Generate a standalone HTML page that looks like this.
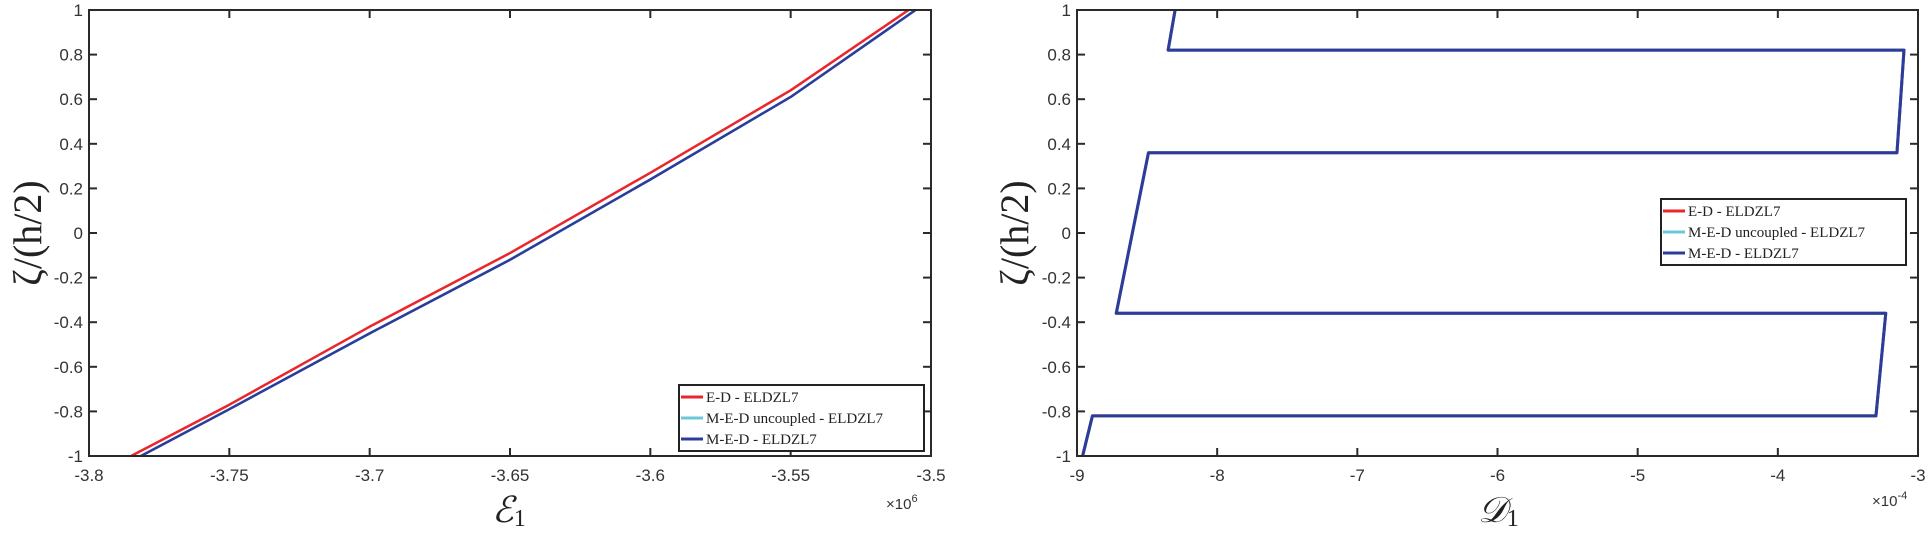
<!DOCTYPE html>
<html><head><meta charset="utf-8"><style>
body{margin:0;background:#fff;position:relative}
svg text{font-family:"Liberation Sans",sans-serif}
.tk{font-size:17px;fill:#333}
.ser{font-family:"Liberation Serif","DejaVu Serif",serif}
</style></head><body>
<svg id="c" width="1930" height="536" xmlns="http://www.w3.org/2000/svg"></svg>
<script>
const leftXTicks=[-3.8,-3.75,-3.7,-3.65,-3.6,-3.55,-3.5];
const leftXLabels=["-3.8","-3.75","-3.7","-3.65","-3.6","-3.55","-3.5"];
const yTicks=[-1,-0.8,-0.6,-0.4,-0.2,0,0.2,0.4,0.6,0.8,1];
const yLabels=["-1","-0.8","-0.6","-0.4","-0.2","0","0.2","0.4","0.6","0.8","1"];
const leftZeta=[-1,-0.77,-0.42,-0.09,0.27,0.64,1];
const leftRedE=[-3.785,-3.75,-3.7,-3.65,-3.6,-3.55,-3.508];
const leftBlueZeta=[-1,-0.79,-0.45,-0.12,0.24,0.61,1];
const leftBlueE=[-3.7815,-3.75,-3.7,-3.65,-3.6,-3.55,-3.5055];
const rightXTicks=[-9,-8,-7,-6,-5,-4,-3];
const rightXLabels=["-9","-8","-7","-6","-5","-4","-3"];
const rightZeta=[1,0.82,0.82,0.36,0.36,-0.36,-0.36,-0.82,-0.82,-1];
const rightD=[-8.30,-8.35,-3.10,-3.15,-8.49,-8.72,-3.23,-3.30,-8.89,-8.96];
const legendLabels=["E-D - ELDZL7","M-E-D uncoupled - ELDZL7","M-E-D - ELDZL7"];
const legendColors=["#e8262b","#6cc8d8","#2b3c9a"];

const svg=document.getElementById('c');
const NS='http://www.w3.org/2000/svg';
function mk(tag,attrs,parent){const e=document.createElementNS(NS,tag);for(const k in attrs)e.setAttribute(k,attrs[k]);(parent||svg).appendChild(e);return e;}

function panel(o){
  const g=mk('g',{});
  
  
  const X=v=>o.x0+(v-o.xmin)/(o.xmax-o.xmin)*(o.x1-o.x0);
  const Y=v=>o.y1-(v+1)/2*(o.y1-o.y0);
  o.series.forEach(s=>{
    const p=mk('polyline',{points:s.xs.map((v,i)=>X(v)+','+Y(s.ys[i])).join(' '),fill:'none',stroke:s.color,'stroke-width':s.w,'stroke-linejoin':'round'},g);
    
    
  });
  const ax=mk('rect',{x:o.x0,y:o.y0,width:o.x1-o.x0,height:o.y1-o.y0,fill:'none',stroke:'#2a2a2a','stroke-width':2},g);
  
  
  o.xt.forEach((v,i)=>{
    const x=X(v);
    mk('line',{x1:x,x2:x,y1:o.y1,y2:o.y1-8,stroke:'#2a2a2a','stroke-width':2},g);
    mk('line',{x1:x,x2:x,y1:o.y0,y2:o.y0+8,stroke:'#2a2a2a','stroke-width':2},g);
    const t=mk('text',{x:x,y:o.y1+25,'text-anchor':'middle',class:'tk'},g);
    t.textContent=o.xl[i];
    
    
  });
  yTicks.forEach((v,i)=>{
    const y=Y(v);
    mk('line',{x1:o.x0,x2:o.x0+8,y1:y,y2:y,stroke:'#2a2a2a','stroke-width':2},g);
    mk('line',{x1:o.x1,x2:o.x1-8,y1:y,y2:y,stroke:'#2a2a2a','stroke-width':2},g);
    const t=mk('text',{x:o.x0-6,y:y+6,'text-anchor':'end',class:'tk'},g);
    t.textContent=yLabels[i];
    
    
  });
  const lg=mk('g',{},g);
  
  
  mk('rect',{x:o.lx,y:o.ly,width:245,height:66,fill:'#fff',stroke:'#222','stroke-width':2},lg);
  legendLabels.forEach((l,i)=>{
    const yy=o.ly+12+i*21;
    mk('line',{x1:o.lx+2,x2:o.lx+24,y1:yy,y2:yy,stroke:legendColors[i],'stroke-width':3},lg);
    const t=mk('text',{x:o.lx+27,y:yy+5,class:'ser','font-size':'15','fill':'#222'},lg);
    t.textContent=l;
    
    
  });
  return {g,X,Y};
}

const L=panel({name:'left-panel',x0:89,x1:931,y0:10,y1:456,xmin:-3.8,xmax:-3.5,xt:leftXTicks,xl:leftXLabels,lx:679,ly:385,
  series:[{name:'series-e-d',xs:leftRedE,ys:leftZeta,color:'#e8262b',w:2.5},
          {name:'series-m-e-d-uncoupled',xs:leftBlueE,ys:leftBlueZeta,color:'#6cc8d8',w:2.5},
          {name:'series-m-e-d',xs:leftBlueE,ys:leftBlueZeta,color:'#2b3c9a',w:2.5}]});
const R=panel({name:'right-panel',x0:1077,x1:1918,y0:10,y1:456,xmin:-9,xmax:-3,xt:rightXTicks,xl:rightXLabels,lx:1661,ly:199,
  series:[{name:'series-e-d',xs:rightD,ys:rightZeta,color:'#e8262b',w:3},
          {name:'series-m-e-d-uncoupled',xs:rightD,ys:rightZeta,color:'#6cc8d8',w:3},
          {name:'series-m-e-d',xs:rightD,ys:rightZeta,color:'#2b3c9a',w:3}]});
</script>
<svg width="1930" height="536" style="position:absolute;left:0;top:0" xmlns="http://www.w3.org/2000/svg">
  <text class="ser" x="0" y="0" font-size="40" fill="#222" text-anchor="middle" transform="translate(41,233) rotate(-90)">ζ/(h/2)</text>
  <text class="ser" x="0" y="0" font-size="40" fill="#222" text-anchor="middle" transform="translate(1028,233) rotate(-90)">ζ/(h/2)</text>
  <text class="ser" x="492" y="522" font-size="36" fill="#222" font-style="italic">ℰ<tspan font-size="24" font-style="normal" dy="4">1</tspan></text>
  <text class="ser" x="1478" y="522" font-size="36" fill="#222" font-style="italic">𝒟<tspan font-size="24" font-style="normal" dy="4">1</tspan></text>
  <text x="886" y="509" font-size="15" fill="#333" font-family="Liberation Sans">×10<tspan font-size="11" dy="-7">6</tspan></text>
  <text x="1872" y="506" font-size="15" fill="#333" font-family="Liberation Sans">×10<tspan font-size="11" dy="-7">-4</tspan></text>
</svg>
</body></html>
